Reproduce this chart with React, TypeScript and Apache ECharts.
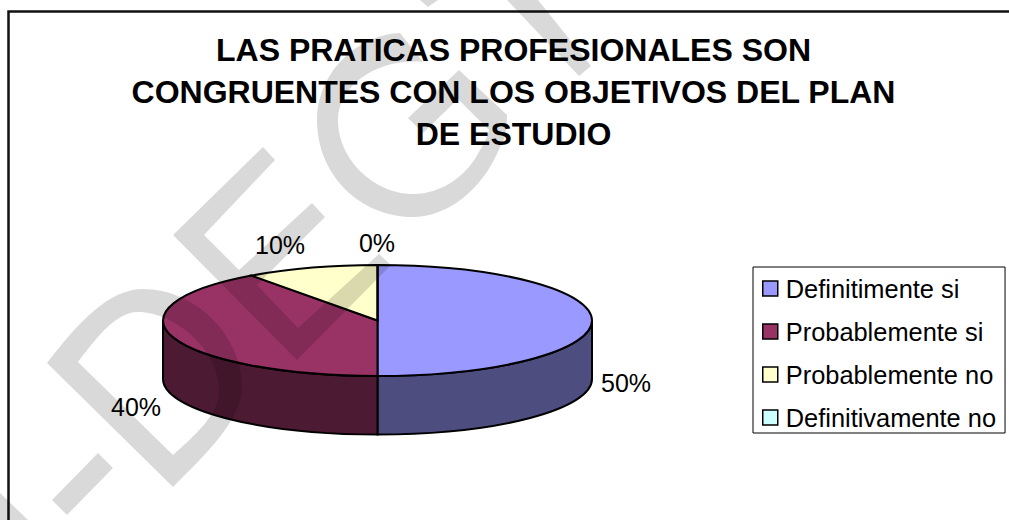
import React, { useEffect, useRef } from "react";
import * as echarts from "echarts";

const titleText = "LAS PRATICAS PROFESIONALES SON\nCONGRUENTES CON LOS OBJETIVOS DEL PLAN\nDE ESTUDIO";
const categories = ["Definitimente si", "Probablemente si", "Probablemente no", "Definitivamente no"];
const values = [50, 40, 10, 0];
const topColors = ["#9999FF", "#993366", "#FFFFCC", "#CCFFFF"];
const sideColors = ["#4D4D80", "#4D1A33", "#808066", "#668080"];
const labelCenters = [[626, 383], [136, 407], [280, 245], [377, 243]];

const PIE = { cx: 377.5, cy: 320.5, rx: 214.5, ry: 55.5, depth: 58.5 };
const FONT = '"Liberation Sans", Arial, sans-serif';

const WATERMARK =
  // G
  "M408 118 L459 70 L507 115 C507 130 505 140 500 147 C483 190 447 217 413 217 C360 217 317 175 317 120 C317 75 355 35 400 33 L423 62 C378 58 338 85 338 120 C338 160 375 194 413 194 C442 194 468 175 480 150 C485 143 487 137 489 130 L458 99 L423 133 Z " +
  // G top strokes (next letter fragments)
  "M420 0 L428 7 L438 0 Z M507 0 L579 76 L591 66 L538 0 Z " +
  // E
  "M263 147 L275 160 L204 235 L239 270 L312 203 L325 217 L257 285 L298 328 L379 254 L391 265 L297 360 L173 235 Z " +
  // D
  "M47 363 C80 320 110 289 143 289 C195 289 242 335 242 387 C242 420 205 455 173 487 Z " +
  "M78 362 L173 455 C195 435 219 415 219 390 C219 350 175 312 138 312 C115 312 95 340 78 362 Z " +
  // dash and corner
  "M98 453 L113 468 L67 515 L52 500 Z M0 493 L28 520 L0 520 Z";

echarts.graphic.registerShape("watermark", echarts.graphic.extendPath(WATERMARK, {}));

function point(deg: number, dy = 0) {
  const a = (deg * Math.PI) / 180;
  return [PIE.cx + PIE.rx * Math.sin(a), PIE.cy - PIE.ry * Math.cos(a) + dy];
}

function topPath(start: number, end: number) {
  const [x1, y1] = point(start);
  const [x2, y2] = point(end);
  if (end - start <= 0) return `M${PIE.cx} ${PIE.cy} L${x2} ${y2}`;
  const large = end - start > 180 ? 1 : 0;
  return `M${PIE.cx} ${PIE.cy} L${x1} ${y1} A${PIE.rx} ${PIE.ry} 0 ${large} 1 ${x2} ${y2} Z`;
}

function sidePath(start: number, end: number) {
  const s = Math.max(start, 90);
  const e = Math.min(end, 270);
  if (e <= s) return null;
  const [x1, y1] = point(s);
  const [x2, y2] = point(e);
  const d = PIE.depth;
  return `M${x1} ${y1} A${PIE.rx} ${PIE.ry} 0 0 1 ${x2} ${y2} L${x2} ${y2 + d} A${PIE.rx} ${PIE.ry} 0 0 0 ${x1} ${y1 + d} Z`;
}

export default function App() {
  const ref = useRef<HTMLDivElement>(null);
  useEffect(() => {
    document.body.style.margin = "0";
    document.body.style.overflow = "hidden";
    const chart = echarts.init(ref.current!, null, { renderer: "svg" });
    const total = values.reduce((a, b) => a + b, 0);
    const series = categories.map((name, i) => {
      const before = values.slice(0, i).reduce((a, b) => a + b, 0);
      return {
        type: "custom",
        name,
        coordinateSystem: "none",
        z: 2,
        itemStyle: { color: topColors[i] },
        data: [[values[i]]],
        renderItem: (_p: any, api: any) => {
          const v = api.value(0);
          const start = (before / total) * 360;
          const end = ((before + v) / total) * 360;
          const stroke = { stroke: "#000", lineWidth: 2 };
          const children: any[] = [];
          const side = sidePath(start, end);
          if (side) {
            children.push({
              type: "path",
              shape: { pathData: side },
              style: { fill: sideColors[i], ...stroke },
            });
          }
          children.push({
            type: "path",
            shape: { pathData: topPath(start, end) },
            style: { fill: topColors[i], ...stroke },
          });
          children.push({
            type: "text",
            x: labelCenters[i][0],
            y: labelCenters[i][1],
            style: {
              text: `${Math.round((v / total) * 100)}%`,
              font: `25px ${FONT}`,
              fill: "#000",
              align: "center",
              verticalAlign: "middle",
            },
          });
          return { type: "group", children };
        },
      };
    });
    chart.setOption({
      animation: false,
      backgroundColor: "#fff",
      title: {
        text: titleText,
        left: 508.5,
        top: 24,
        textAlign: "center",
        textStyle: {
          fontFamily: FONT,
          fontWeight: "bold",
          fontSize: 32,
          lineHeight: 42,
          color: "#000",
        },
      },
      legend: {
        orient: "vertical",
        left: 753,
        top: 267,
        padding: [9, 9, 3, 9],
        itemWidth: 15,
        itemHeight: 15,
        itemGap: 18,
        icon: "rect",
        selectedMode: false,
        backgroundColor: "#fff",
        borderColor: "#000",
        borderWidth: 1,
        itemStyle: { borderColor: "#000", borderWidth: 1.5 },
        textStyle: {
          fontFamily: FONT,
          fontSize: 25.4,
          color: "#000",
          padding: [0, 0, 0, 3],
        },
        data: categories,
      },
      series,
      graphic: [
        {
          type: "polyline",
          z: 50,
          silent: true,
          shape: { points: [[8.5, 520], [8.5, 11.5], [1009, 11.5]] },
          style: { stroke: "#111", lineWidth: 2.5, fill: "none" },
        },
        {
          type: "watermark",
          x: 0,
          y: 0,
          z: 100,
          silent: true,
          style: { fill: "rgba(0,0,0,0.15)", fillRule: "evenodd" },
        },
      ],
    });
    return () => chart.dispose();
  }, []);
  return <div ref={ref} style={{ width: 1009, height: 520 }} />;
}
